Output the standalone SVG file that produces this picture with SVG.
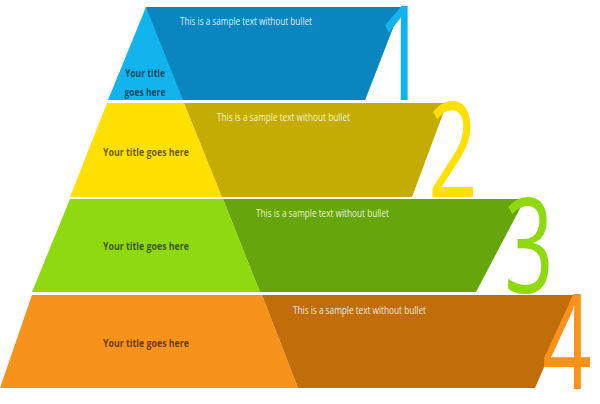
<svg xmlns="http://www.w3.org/2000/svg" width="600" height="404" viewBox="0 0 600 404">
<style>
.title{font-family:"Open Sans","Liberation Sans",sans-serif;font-weight:bold;font-size:11px;fill:#000;fill-opacity:0.62;text-anchor:middle}
.sample{font-family:"Open Sans","Liberation Sans",sans-serif;font-size:10.5px;fill:#fff;fill-opacity:0.88}
.num{font-family:"Open Sans","Liberation Sans",sans-serif;font-weight:normal;font-size:131px;text-anchor:middle}
</style>
<rect width="600" height="404" fill="#fff"/>
<g id="tier1">
<polygon points="146,7 401,7 365,100 108,100" fill="#13b4ee"/>
<polygon points="146,7 401,7 365,100 183,100" fill="#0986bf"/>
<text class="title" x="145" y="77" textLength="40" lengthAdjust="spacingAndGlyphs">Your title</text>
<text class="title" x="145" y="96" textLength="41" lengthAdjust="spacingAndGlyphs">goes here</text>
<text class="sample" x="180" y="25" textLength="132" lengthAdjust="spacingAndGlyphs">This is a sample text without bullet</text>
<text class="num" transform="translate(402,100) scale(0.66,1)" fill="#13b4ee">1</text>
</g>
<g id="tier2">
<polygon points="107,103 184,103 222,197 70,197" fill="#ffe000"/>
<polygon points="184,103 447,103 412,197 222,197" fill="#c4ac02"/>
<text class="title" x="146" y="156" textLength="86" lengthAdjust="spacingAndGlyphs">Your title goes here</text>
<text class="sample" x="217" y="121" textLength="133" lengthAdjust="spacingAndGlyphs">This is a sample text without bullet</text>
<text class="num" transform="translate(453,197) scale(0.66,1)" fill="#ffe000">2</text>
</g>
<g id="tier3">
<polygon points="70,199 223,199 260,292 32,292" fill="#8ed90f"/>
<polygon points="223,199 525,199 476,292 260,292" fill="#67a50c"/>
<text class="title" x="146" y="250" textLength="86" lengthAdjust="spacingAndGlyphs">Your title goes here</text>
<text class="sample" x="256" y="217" textLength="133" lengthAdjust="spacingAndGlyphs">This is a sample text without bullet</text>
<text class="num" transform="translate(529,293) scale(0.66,1)" fill="#8ed90f">3</text>
</g>
<g id="tier4">
<polygon points="32,295 262,295 298,388 0,388" fill="#f7921b"/>
<polygon points="262,295 575,295 535,388 298,388" fill="#c16d0a"/>
<text class="title" x="146" y="347" textLength="86" lengthAdjust="spacingAndGlyphs">Your title goes here</text>
<text class="sample" x="293" y="314" textLength="133" lengthAdjust="spacingAndGlyphs">This is a sample text without bullet</text>
<text class="num" transform="translate(567,389) scale(0.66,1)" fill="#f7921b">4</text>
</g>
<g id="connectors"/>
</svg>
